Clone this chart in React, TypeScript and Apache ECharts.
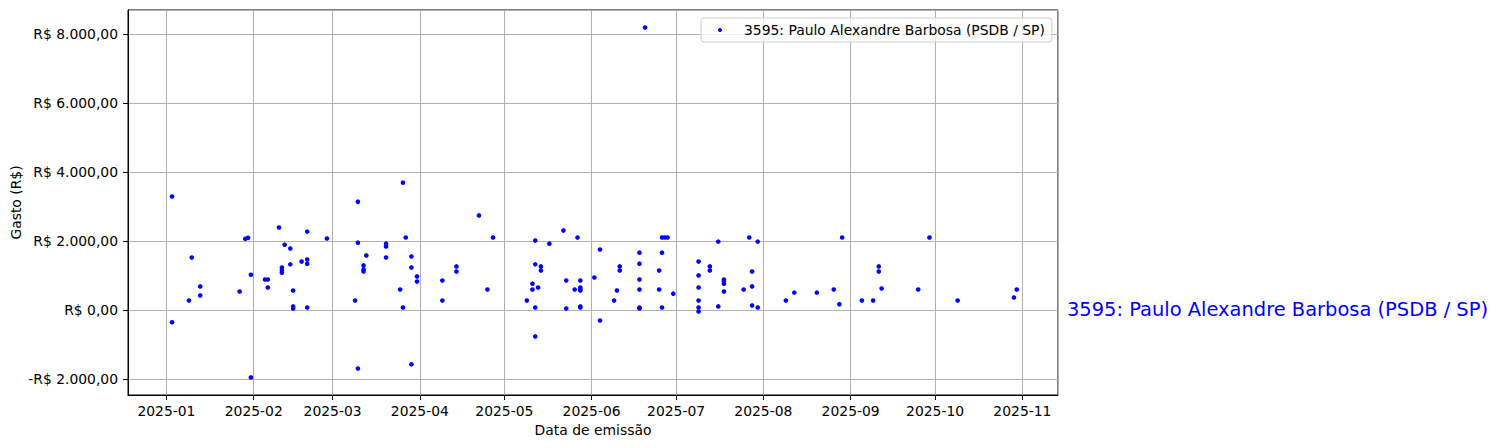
import React, { useEffect, useRef } from 'react';
import * as echarts from 'echarts';

const seriesName = '3595: Paulo Alexandre Barbosa (PSDB / SP)';
const xTitle = 'Data de emissão';
const yTitle = 'Gasto (R$)';

const dates: string[] = [
  '2025-01-03', '2025-01-03', '2025-01-09', '2025-01-10', '2025-01-13', '2025-01-13', '2025-01-27',
  '2025-01-29', '2025-01-30', '2025-01-31', '2025-01-31',
  '2025-02-05', '2025-02-06', '2025-02-06', '2025-02-10', '2025-02-11', '2025-02-11', '2025-02-11',
  '2025-02-12', '2025-02-14', '2025-02-14', '2025-02-15', '2025-02-15', '2025-02-15', '2025-02-18',
  '2025-02-20', '2025-02-20', '2025-02-20', '2025-02-20', '2025-02-27',
  '2025-03-09', '2025-03-10', '2025-03-10', '2025-03-10', '2025-03-12', '2025-03-12', '2025-03-12',
  '2025-03-13', '2025-03-20', '2025-03-20', '2025-03-20', '2025-03-25', '2025-03-26', '2025-03-26',
  '2025-03-27', '2025-03-29', '2025-03-29', '2025-03-29', '2025-03-31', '2025-03-31',
  '2025-04-09', '2025-04-09', '2025-04-14', '2025-04-14', '2025-04-22', '2025-04-25', '2025-04-27',
  '2025-05-09', '2025-05-11', '2025-05-11', '2025-05-13', '2025-05-12', '2025-05-12', '2025-05-12',
  '2025-05-12', '2025-05-14', '2025-05-14', '2025-05-17', '2025-05-22', '2025-05-23', '2025-05-23',
  '2025-05-26', '2025-05-27', '2025-05-28', '2025-05-28', '2025-05-28', '2025-05-28', '2025-05-28',
  '2025-05-28',
  '2025-06-02', '2025-06-04', '2025-06-04', '2025-06-09', '2025-06-10', '2025-06-11', '2025-06-11',
  '2025-06-18', '2025-06-18', '2025-06-18', '2025-06-18', '2025-06-18', '2025-06-18', '2025-06-20',
  '2025-06-25', '2025-06-25', '2025-06-26', '2025-06-26', '2025-06-26', '2025-06-27', '2025-06-28',
  '2025-06-30',
  '2025-07-09', '2025-07-09', '2025-07-09', '2025-07-09', '2025-07-09', '2025-07-09', '2025-07-13',
  '2025-07-13', '2025-07-16', '2025-07-16', '2025-07-18', '2025-07-18', '2025-07-18', '2025-07-18',
  '2025-07-25', '2025-07-27', '2025-07-28', '2025-07-28', '2025-07-28', '2025-07-30', '2025-07-30',
  '2025-08-09', '2025-08-12', '2025-08-20', '2025-08-26', '2025-08-28', '2025-08-29',
  '2025-09-05', '2025-09-09', '2025-09-11', '2025-09-11', '2025-09-12', '2025-09-25', '2025-09-29',
  '2025-10-09', '2025-10-29', '2025-10-30',
];

const amounts: number[] = [
  3300, -350, 280, 1530, 690, 430, 540,
  2070, 2100, 1030, -1950,
  890, 890, 660, 2400, 1240, 1160, 1090,
  1900, 1790, 1330, 570, 110, 50, 1410,
  2280, 1470, 1350, 80, 2080,
  280, 3150, 1960, -1690, 1300, 1180, 1120,
  1590, 1930, 1850, 1530, 600, 3700, 80,
  2110, 1560, 1240, -1570, 980, 830,
  860, 280, 1270, 1120, 2750, 600, 2110,
  280, 770, 600, 660, 2020, 1330, 80,
  -760, 1270, 1150, 1930, 2310, 860, 50,
  600, 2110, 860, 660, 600, 570, 110,
  80,
  950, 1760, -300, 280, 570, 1270, 1150,
  1670, 1350, 890, 600, 80, 50, 8200,
  1150, 600, 2110, 1670, 80, 2110, 2110,
  480,
  1410, 1010, 660, 280, 80, -40, 1270,
  1150, 1990, 110, 890, 830, 770, 540,
  600, 2110, 1120, 690, 140, 1990, 80,
  280, 510, 510, 600, 170, 2110,
  280, 280, 1270, 1120, 630, 600, 2110,
  280, 370, 600,
];

const FONT = 'DejaVu Sans';

function toUTC(s: string): number {
  const [y, m, d] = s.split('-').map(Number);
  return Date.UTC(y, m - 1, d);
}

function brl(v: number): string {
  const sign = v < 0 ? '-' : '';
  const a = Math.abs(Math.round(v));
  const s = a.toString().replace(/\B(?=(\d{3})+(?!\d))/g, '.');
  return `${sign}R$ ${s},00`;
}

export default function App() {
  const ref = useRef<HTMLDivElement>(null);

  useEffect(() => {
    if (!ref.current) return;
    const chart = echarts.init(ref.current, null, { renderer: 'svg' });
    const points = dates.map((d, i) => [toUTC(d), amounts[i]]);

    chart.setOption({
      animation: false,
      useUTC: true,
      backgroundColor: '#ffffff',
      grid: {
        left: 128,
        top: 10,
        width: 930,
        height: 385,
        show: true,
        borderColor: '#000000',
        borderWidth: 1,
        containLabel: false,
        outerBoundsMode: 'none',
      },
      legend: {
        show: true,
        left: 701,
        top: 18,
        orient: 'horizontal',
        icon: 'circle',
        itemWidth: 38,
        itemHeight: 4,
        padding: [4, 7, 4, 17],
        backgroundColor: 'rgba(255,255,255,0.8)',
        borderColor: '#cccccc',
        borderWidth: 1,
        borderRadius: 3,
        textStyle: { fontSize: 13.9, color: '#000000', fontFamily: FONT, lineHeight: 16 },
        data: [seriesName],
      },
      xAxis: {
        type: 'time',
        min: Date.UTC(2024, 11, 18, 8, 24),
        max: Date.UTC(2025, 10, 13, 15, 36),
        splitNumber: 11,
        minInterval: 28 * 86400000,
        name: xTitle,
        nameLocation: 'middle',
        nameGap: 28,
        nameMoveOverlap: false,
        nameTextStyle: { fontSize: 13.9, color: '#000000', fontFamily: FONT },
        axisLine: { show: true, onZero: false, lineStyle: { color: '#000000', width: 1 } },
        axisTick: { show: true, length: 5, lineStyle: { color: '#000000', width: 1 } },
        axisLabel: {
          formatter: '{yyyy}-{MM}',
          fontSize: 13.9,
          color: '#000000',
          fontFamily: FONT,
          margin: 9,
          showMinLabel: false,
          showMaxLabel: false,
        },
        splitLine: { show: true, lineStyle: { color: '#b0b0b0', width: 1 } },
      },
      yAxis: {
        type: 'value',
        min: -2460,
        max: 8710,
        splitNumber: 5,
        name: yTitle,
        nameLocation: 'middle',
        nameGap: 105,
        nameMoveOverlap: false,
        nameTextStyle: { fontSize: 13.9, color: '#000000', fontFamily: FONT },
        axisLine: { show: true, lineStyle: { color: '#000000', width: 1 } },
        axisTick: { show: true, length: 5, lineStyle: { color: '#000000', width: 1 } },
        axisLabel: {
          formatter: (v: number) => brl(v),
          fontSize: 13.9,
          color: '#000000',
          fontFamily: FONT,
          margin: 10,
          showMinLabel: false,
          showMaxLabel: false,
        },
        splitLine: { show: true, lineStyle: { color: '#b0b0b0', width: 1 } },
      },
      graphic: [
        {
          type: 'text',
          left: 1067,
          top: 300,
          style: {
            text: seriesName,
            fontSize: 19.44,
            fontFamily: FONT,
            fill: '#0000ff',
          },
        },
      ],
      series: [
        {
          name: seriesName,
          type: 'scatter',
          data: points,
          symbol: 'circle',
          symbolSize: 4.6,
          itemStyle: { color: '#0000ff', opacity: 1 },
          emphasis: { disabled: true },
        },
      ],
    });

    return () => chart.dispose();
  }, []);

  return (
    <div
      ref={ref}
      style={{ position: 'fixed', left: 0, top: 0, width: 1498, height: 448, background: '#fff' }}
    />
  );
}
